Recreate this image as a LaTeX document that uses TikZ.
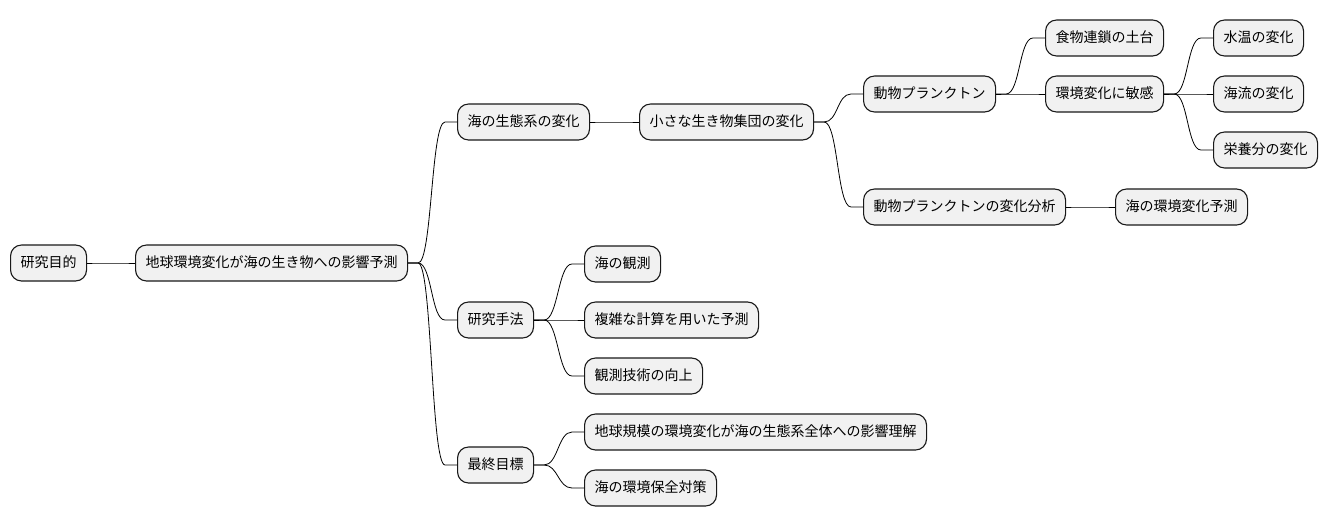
\documentclass[tikz,border=0pt]{standalone}
\usepackage{fontspec}
\setmainfont{Noto Sans CJK JP}
\usetikzlibrary{calc}
\tikzset{
  mm/.style={draw=black!90, line width=1.1pt, fill=black!5.5, rounded corners=11pt,
    minimum height=36pt, inner xsep=10pt, inner ysep=0pt, anchor=west,
    text height=11.5pt, text depth=2.5pt, font=\fontsize{14pt}{16pt}\selectfont},
  link/.style={draw=black, line width=0.8pt}
}
\newcommand\mmlink[2]{\draw[link] (#1.east) -- ++(10,0) coordinate (s)
  .. controls ($(s)+(14,0)$) and ($(#2.west)+(-26,0)$) .. ($(#2.west)+(-12,0)$) -- (#2.west);}
\begin{document}
\begin{tikzpicture}[x=1pt,y=-1pt]
\useasboundingbox (0,0) rectangle (1328,527);
\node[mm] (root) at (10,263) {研究目的};
\node[mm] (goal) at (135,263) {地球環境変化が海の生き物への影響予測};
\node[mm] (eco) at (457,122) {海の生態系の変化};
\node[mm] (small) at (639,122) {小さな生き物集団の変化};
\node[mm] (zoo) at (863,94) {動物プランクトン};
\node[mm] (zooa) at (863,207) {動物プランクトンの変化分析};
\node[mm] (food) at (1045,38) {食物連鎖の土台};
\node[mm] (sens) at (1045,94) {環境変化に敏感};
\node[mm] (temp) at (1213,38) {水温の変化};
\node[mm] (curr) at (1213,94) {海流の変化};
\node[mm] (nutr) at (1213,150) {栄養分の変化};
\node[mm] (pred) at (1115,207) {海の環境変化予測};
\node[mm] (meth) at (457,320) {研究手法};
\node[mm] (obs) at (584,264) {海の観測};
\node[mm] (calc) at (584,320) {複雑な計算を用いた予測};
\node[mm] (tech) at (584,376) {観測技術の向上};
\node[mm] (fin) at (457,465) {最終目標};
\node[mm] (und) at (584,432) {地球規模の環境変化が海の生態系全体への影響理解};
\node[mm] (cons) at (584,488) {海の環境保全対策};
\mmlink{root}{goal}
\mmlink{goal}{eco}
\mmlink{goal}{meth}
\mmlink{goal}{fin}
\mmlink{eco}{small}
\mmlink{small}{zoo}
\mmlink{small}{zooa}
\mmlink{zoo}{food}
\mmlink{zoo}{sens}
\mmlink{sens}{temp}
\mmlink{sens}{curr}
\mmlink{sens}{nutr}
\mmlink{zooa}{pred}
\mmlink{meth}{obs}
\mmlink{meth}{calc}
\mmlink{meth}{tech}
\mmlink{fin}{und}
\mmlink{fin}{cons}
\end{tikzpicture}
\end{document}
